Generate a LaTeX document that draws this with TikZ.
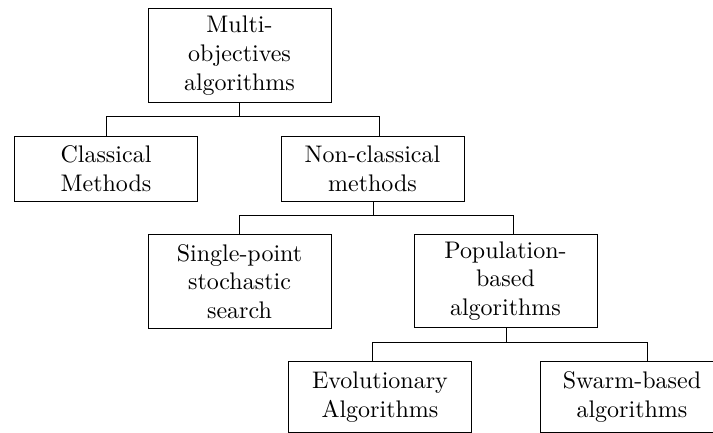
\documentclass[tikz,border=0pt]{standalone}
\begin{document}
\begin{tikzpicture}[x=0.41667pt, y=-0.41667pt, draw=black]
        \tikzstyle{box}=[
            draw, align=center, minimum width=76.25pt, inner sep=2pt
        ]
        \tikzstyle{tall box}=[box, minimum height=39pt];
        \tikzstyle{flat box}=[box, minimum height=26.7pt];
        \tikzstyle{leaf box}=[box, minimum height=29.2pt];

        \useasboundingbox (0,0) rectangle (713,433);

        % Draw the top of the tree
        \node[tall box] (root) at (239.5,55.5) {Multi-\\objectives\\algorithms};

        % Draw the second level
        \node[flat box] (classical) at (106,169) {Classical\\Methods};
        \node[flat box] (nonclassical) at (372.5,169) {Non-classical\\methods};

        % Draw the third level
        \node[tall box] (single) at (239.5,281.5) {Single-point\\stochastic\\search};
        \node[tall box] (population) at (505.5,281) {Population-\\based\\algorithms};

        % Draw the leaves
        \node[leaf box] (evolutionary) at (380,397) {Evolutionary\\Algorithms};
        \node[leaf box] (swarm) at (632,397) {Swarm-based\\algorithms};

        % Connect every parent with its children
        \foreach \parent / \ps / \child / \cs in {root/0pt/classical/0pt,
                root/0pt/nonclassical/2.7pt,
                nonclassical/0.6pt/single/0pt,
                nonclassical/0.6pt/population/3.5pt,
                population/0.6pt/evolutionary/-3.3pt,
                population/0.6pt/swarm/6.25pt}
            \draw ([xshift=\ps]\parent.south) -- ++(0,14) -| ([xshift=\cs]\child.north);
    \end{tikzpicture}
\end{document}
